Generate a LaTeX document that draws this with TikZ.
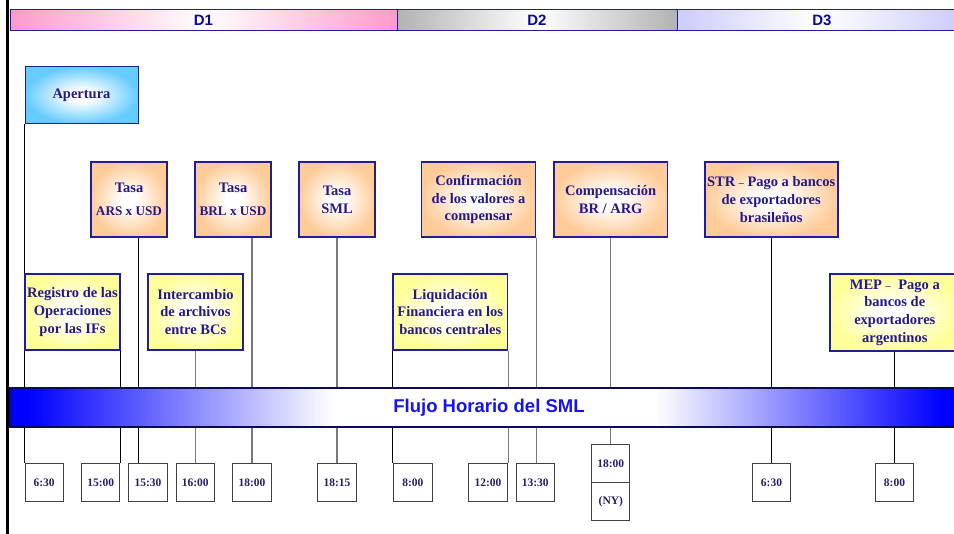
\documentclass[tikz,border=0pt]{standalone}
\usepackage{fontspec}
\setmainfont{Liberation Serif}
\newfontfamily\arialf{Liberation Sans}
\usetikzlibrary{backgrounds}
\definecolor{bordblue}{RGB}{30,30,155}
\definecolor{txtblue}{RGB}{35,25,140}
\definecolor{timetxt}{RGB}{35,30,110}
\definecolor{dlab}{RGB}{10,10,150}
\definecolor{flujotxt}{RGB}{20,20,235}
\definecolor{skyb}{RGB}{102,204,255}
\definecolor{peach}{RGB}{255,204,153}
\definecolor{lyellow}{RGB}{255,255,153}
\definecolor{pinkd}{RGB}{255,153,204}
\definecolor{grayd}{RGB}{178,178,178}
\definecolor{lavd}{RGB}{204,204,255}
\definecolor{barblue}{RGB}{0,0,255}
\definecolor{linegray}{RGB}{120,120,120}
\pgfdeclareradialshading{glowblue}{\pgfpoint{0bp}{0bp}}{color(0bp)=(white); color(5bp)=(white); color(25bp)=(skyb); color(50bp)=(skyb)}
\pgfdeclareradialshading{glowpeach}{\pgfpoint{0bp}{0bp}}{color(0bp)=(white); color(5bp)=(white); color(25bp)=(peach); color(50bp)=(peach)}
\pgfdeclareradialshading{glowyellow}{\pgfpoint{0bp}{0bp}}{color(0bp)=(white); color(5bp)=(white); color(25bp)=(lyellow); color(50bp)=(lyellow)}
\pgfdeclarehorizontalshading{flujoshade}{100bp}{color(0bp)=(barblue); color(26bp)=(barblue); color(42bp)=(white); color(59bp)=(white); color(74bp)=(barblue); color(100bp)=(barblue)}
\tikzset{
  evbox/.style={draw=bordblue, line width=1.6pt, align=center, inner sep=0pt,
    text=txtblue, font=\bfseries\fontsize{14.5}{17.7}\selectfont},
  apbox/.style={evbox, line width=1pt, shading=glowblue},
  orbox/.style={evbox, shading=glowpeach, minimum height=75pt},
  yebox/.style={evbox, shading=glowyellow, minimum height=76pt},
  timebox/.style={draw=black!75, line width=1pt, fill=white, minimum width=38.3pt,
    minimum height=38.4pt, inner sep=0pt, text=timetxt,
    font=\bfseries\fontsize{11.5}{13}\selectfont},
  dseg/.style={draw=bordblue, line width=1pt},
  dlabel/.style={text=dlab, font=\arialf\bfseries\fontsize{15}{18}\selectfont},
  blk/.style={draw=black, line width=1.1pt},
  gry/.style={draw=linegray, line width=1.3pt},
}
\newcommand{\smallline}[1]{{\fontsize{13.2}{16}\selectfont #1}}
\begin{document}
\begin{tikzpicture}[x=1pt, y=-1pt]
\clip (0,0) rectangle (954,534);

% top day bar
\shade[left color=pinkd, right color=pinkd, middle color=white] (10,10) rectangle (397,31);
\shade[left color=grayd, right color=grayd, middle color=white] (397,10) rectangle (677,31);
\shade[left color=lavd, right color=lavd, middle color=white] (677,10) rectangle (960,31);
\draw[dseg] (10,10) rectangle (397,31);
\draw[dseg] (397,10) rectangle (677,31);
\draw[dseg] (677,10) rectangle (960,31);
\node[dlabel] (d1) at (203.5,20.5) {D1};
\node[dlabel] (d2) at (537,20.5) {D2};
\node[dlabel] (d3) at (822,20.5) {D3};

% left thick line
\draw[black, line width=3pt] (7.5,0) -- (7.5,534);

% event boxes
\node[apbox, minimum width=113pt, minimum height=57pt] (ap) at (81.5,95.5) {Apertura};
\node[yebox, minimum width=95pt] (reg) at (72.5,312) {Registro de las\\Operaciones\\por las IFs};
\node[orbox, minimum width=76pt] (tars) at (129,199.5) {Tasa\\[5pt]\smallline{ARS x USD}};
\node[yebox, minimum width=95pt] (inter) at (195.5,312) {Intercambio\\de archivos\\entre BCs};
\node[orbox, minimum width=76pt] (tbrl) at (233,199.5) {Tasa\\[5pt]\smallline{BRL x USD}};
\node[orbox, minimum width=76pt] (tsml) at (337,199.5) {Tasa\\SML};
\node[yebox, minimum width=114.5pt] (liq) at (450.2,312) {Liquidación\\Financiera en los\\bancos centrales};
\node[orbox, minimum width=114pt] (conf) at (478.5,199.5) {Confirmación\\de los valores a\\compensar};
\node[orbox, minimum width=113.5pt] (comp) at (610.7,199.5) {Compensación\\BR / ARG};
\node[orbox, minimum width=133pt] (str) at (771.2,199.5) {STR {\fontsize{10}{12}\selectfont --} Pago a bancos\\de exportadores\\brasileños};
\node[yebox, minimum width=130pt, minimum height=77pt] (mep) at (894.8,312.5) {MEP {\fontsize{10}{12}\selectfont --}\; Pago a\\bancos de\\exportadores\\argentinos};

% time boxes
\node[timebox] (t1) at (44.2,482.5) {6:30};
\node[timebox] (t2) at (100.8,482.5) {15:00};
\node[timebox] (t3) at (148,482.5) {15:30};
\node[timebox] (t4) at (195.2,482.5) {16:00};
\node[timebox] (t5) at (252,482.5) {18:00};
\node[timebox] (t6) at (337,482.5) {18:15};
\node[timebox] (t7) at (412.9,482.5) {8:00};
\node[timebox] (t8) at (488,482.5) {12:00};
\node[timebox] (t9) at (535.2,482.5) {13:30};
\node[timebox] (t10) at (610.8,463.5) {18:00};
\node[timebox, minimum height=38pt] (t10b) at (610.8,501.7) {(NY)};
\node[timebox] (t11) at (771.5,482.5) {6:30};
\node[timebox] (t12) at (894.5,482.5) {8:00};

\coordinate (c3) at (138.3,0);

% connectors (behind)
\begin{pgfonlayer}{background}
\fill[white] (0,0) rectangle (954,534);
\draw[blk] (ap.south west) -- (ap.south west |- t1.north);
\draw[blk] (reg.south east) -- (reg.south east |- t2.north);
\draw[blk] (tars.south -| c3) -- (t3.north -| c3);
\draw[gry] (inter.south) -- (inter.south |- t4.north);
\draw[gry] (tbrl.south -| t5.north) -- (t5.north);
\draw[gry] (tsml.south) -- (tsml.south |- t6.north);
\draw[blk] (liq.south west) -- (liq.south west |- t7.north);
\draw[gry] (liq.south east) -- (liq.south east |- t8.north);
\draw[gry] (conf.south east) -- (conf.south east |- t9.north);
\draw[gry] (comp.south) -- (comp.south |- t10.north);
\draw[blk] (str.south) -- (str.south |- t11.north);
\draw[blk] (mep.south -| t12.north) -- (t12.north);
\end{pgfonlayer}

% flow bar
\shade[shading=flujoshade] (10,388) rectangle (960,427);
\draw[draw={rgb,255:red,10;green,10;blue,90}, line width=1.2pt] (10,388) rectangle (960,427);
\node[text=flujotxt, font=\arialf\bfseries\fontsize{18.5}{22}\selectfont] (flujo) at (489,407.5) {Flujo Horario del SML};
\end{tikzpicture}
\end{document}
